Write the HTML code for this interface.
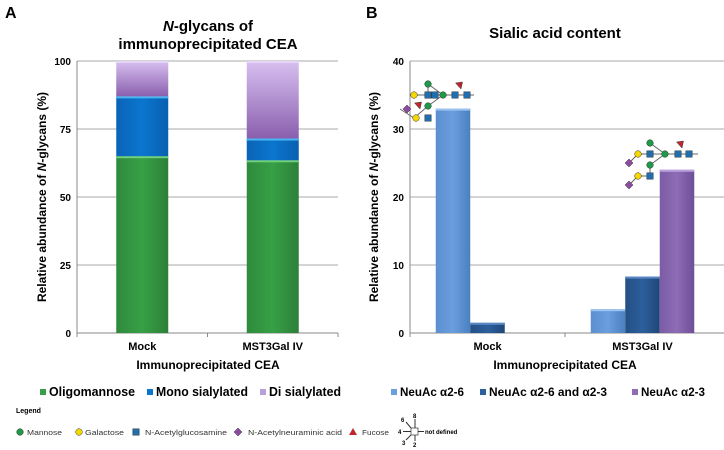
<!DOCTYPE html>
<html><head><meta charset="utf-8"><style>
html,body{margin:0;padding:0;background:#fff;}
svg{display:block;font-family:"Liberation Sans",Arial,sans-serif;}
</style></head><body>
<svg id="chart" width="724" height="450" viewBox="0 0 724 450" xmlns="http://www.w3.org/2000/svg">
<defs>
<linearGradient id="gGreen" x1="0" x2="1"><stop offset="0" stop-color="#2f8a3c"/><stop offset="0.5" stop-color="#37a046"/><stop offset="1" stop-color="#2c8038"/></linearGradient>
<linearGradient id="gBlue" x1="0" x2="1"><stop offset="0" stop-color="#0a64b8"/><stop offset="0.5" stop-color="#0b76cf"/><stop offset="1" stop-color="#0960b0"/></linearGradient>
<linearGradient id="gPurp" x1="0" x2="0" y1="0" y2="1"><stop offset="0" stop-color="#d8c0f0"/><stop offset="1" stop-color="#8a5fae"/></linearGradient>
<linearGradient id="bLight" x1="0" x2="1"><stop offset="0" stop-color="#5b8fd0"/><stop offset="0.5" stop-color="#6a9ede"/><stop offset="1" stop-color="#4a7fc0"/></linearGradient>
<linearGradient id="bDark" x1="0" x2="1"><stop offset="0" stop-color="#234f85"/><stop offset="0.5" stop-color="#2d5f9c"/><stop offset="1" stop-color="#1f4678"/></linearGradient>
<linearGradient id="bPurp" x1="0" x2="1"><stop offset="0" stop-color="#7c5ca6"/><stop offset="0.5" stop-color="#8e6cb6"/><stop offset="1" stop-color="#6e4f96"/></linearGradient>
</defs>
<g id="panelA"></g>
<g id="panelB"></g>
<g id="glycans"></g>
<g id="legends"></g>
</svg>
<script>
const NS="http://www.w3.org/2000/svg";
// Panel A data
const catsA=["Mock","MST3Gal IV"];
const seriesA=["Oligomannose","Mono sialylated","Di sialylated"];
const oligoA=[65,63.5];
const monoA=[22,8];
const diA=[13,28.5];
const ticksA=[0,25,50,75,100];
// Panel B data
const catsB=["Mock","MST3Gal IV"];
const seriesB=["NeuAc \u03b12-6","NeuAc \u03b12-6 and  \u03b12-3","NeuAc \u03b12-3"];
const a26B=[33,3.5];
const bothB=[1.5,8.3];
const a23B=[0,24];
const ticksB=[0,10,20,30,40];

function mk(tag,attrs,parent,text){const e=document.createElementNS(NS,tag);for(const k in attrs)e.setAttribute(k,attrs[k]);if(text!==undefined)e.textContent=text;parent.appendChild(e);return e;}

const y0=333,yTop=61;
// ---- Panel A
const A=document.getElementById('panelA');
const axL=77,axR=338;
const yA=v=>y0-(v/100)*(y0-yTop);
const xA=i=>axL+(axR-axL)/catsA.length*(i+0.5);
let t=mk('text',{x:5,y:18,'font-size':16,'font-weight':'bold'},A,'A');


t=mk('text',{x:208,y:31,'font-size':15,'font-weight':'bold','text-anchor':'middle'},A);


mk('tspan',{'font-style':'italic'},t,'N');mk('tspan',{},t,'-glycans of');
mk('tspan',{x:208,dy:18},t,'immunoprecipitated CEA');
ticksA.forEach(v=>{
 const g=mk('line',{x1:axL,x2:axR,y1:yA(v),y2:yA(v),stroke:v===0?'#888':'#aaa','stroke-width':1},A);
 
 
 const l=mk('text',{x:axL-6,y:yA(v)+4,'font-size':10,'font-weight':'bold','text-anchor':'end'},A,v);
 
 
});
mk('line',{x1:axL,x2:axL,y1:yTop,y2:y0,stroke:'#888'},A);
[axL,(axL+axR)/2,axR].forEach(x=>mk('line',{x1:x,x2:x,y1:y0,y2:y0+4,stroke:'#888'},A));
const bwA=52;
catsA.forEach((c,i)=>{
 let base=0;
 [[oligoA,'url(#gGreen)','#6fd07a','bar-oligomannose'],[monoA,'url(#gBlue)','#49b6f0','bar-mono-sialylated'],[diA,'url(#gPurp)','#e4d4f6','bar-di-sialylated']].forEach(([arr,fill,top,name])=>{
  const v=arr[i];const yt=yA(base+v),yb=yA(base);
  const r=mk('rect',{x:xA(i)-bwA/2,y:yt,width:bwA,height:yb-yt,fill:fill},A);
  
  
  mk('rect',{x:xA(i)-bwA/2,y:yt,width:bwA,height:2,fill:top},A);
  base+=v;
 });
 const l=mk('text',{x:xA(i),y:350,'font-size':11,'font-weight':'bold','text-anchor':'middle'},A,c);
 
 
});
t=mk('text',{x:208,y:369,'font-size':12,'font-weight':'bold','text-anchor':'middle'},A,'Immunoprecipitated CEA');


t=mk('text',{x:0,y:0,'font-size':12,'font-weight':'bold','text-anchor':'middle',transform:'translate(46,197) rotate(-90)'},A);


mk('tspan',{},t,'Relative abundance of ');mk('tspan',{'font-style':'italic'},t,'N');mk('tspan',{},t,'-glycans (%)');

// ---- Panel B
const B=document.getElementById('panelB');
const bxL=410,bxR=720;
const yB=v=>y0-(v/40)*(y0-yTop);
const xB=i=>bxL+(bxR-bxL)/catsB.length*(i+0.5);
t=mk('text',{x:366,y:18,'font-size':16,'font-weight':'bold'},B,'B');


t=mk('text',{x:555,y:38,'font-size':15,'font-weight':'bold','text-anchor':'middle'},B,'Sialic acid content');


ticksB.forEach(v=>{
 const g=mk('line',{x1:bxL,x2:724,y1:yB(v),y2:yB(v),stroke:v===0?'#888':'#aaa'},B);
 
 
 const l=mk('text',{x:bxL-6,y:yB(v)+4,'font-size':10,'font-weight':'bold','text-anchor':'end'},B,v);
 
 
});
mk('line',{x1:bxL,x2:bxL,y1:yTop,y2:y0,stroke:'#888'},B);
[bxL,(bxL+bxR)/2].forEach(x=>mk('line',{x1:x,x2:x,y1:y0,y2:y0+4,stroke:'#888'},B));
const bwB=34.5;
catsB.forEach((c,i)=>{
 [[a26B,'url(#bLight)','#9cc4f0','bar-neuac-a2-6'],[bothB,'url(#bDark)','#5a88c4','bar-neuac-both'],[a23B,'url(#bPurp)','#b9a0dc','bar-neuac-a2-3']].forEach(([arr,fill,top,name],k)=>{
  const v=arr[i];if(v<=0)return;
  const x=xB(i)-1.5*bwB+k*bwB;
  const r=mk('rect',{x:x,y:yB(v),width:bwB,height:y0-yB(v),fill:fill},B);
  
  
  mk('rect',{x:x,y:yB(v),width:bwB,height:2,fill:top},B);
 });
 const l=mk('text',{x:xB(i),y:350,'font-size':11,'font-weight':'bold','text-anchor':'middle'},B,c);
 
 
});
t=mk('text',{x:565,y:369,'font-size':12,'font-weight':'bold','text-anchor':'middle'},B,'Immunoprecipitated CEA');


t=mk('text',{x:0,y:0,'font-size':12,'font-weight':'bold','text-anchor':'middle',transform:'translate(378,197) rotate(-90)'},B);


mk('tspan',{},t,'Relative abundance of ');mk('tspan',{'font-style':'italic'},t,'N');mk('tspan',{},t,'-glycans (%)');

// ---- Glycan symbols
const G=document.getElementById('glycans');
function circ(x,y,c,p){mk('circle',{cx:x,cy:y,r:3.3,fill:c,stroke:'#333','stroke-width':0.5},p);}
function sq(x,y,p){mk('rect',{x:x-3.2,y:y-3.2,width:6.4,height:6.4,fill:'#1f6fb0',stroke:'#333','stroke-width':0.5},p);}
function dia(x,y,p){mk('polygon',{points:`${x},${y-4} ${x+4},${y} ${x},${y+4} ${x-4},${y}`,fill:'#8e4a9e',stroke:'#333','stroke-width':0.5},p);}
function tri(x,y,p){mk('polygon',{points:`${x-3.5},${y-3} ${x+3.5},${y-4} ${x+2},${y+3}`,fill:'#c0272d',stroke:'#333','stroke-width':0.5},p);}
function glyA(){const g=mk('g',{},G);
 mk('polyline',{points:'414,95 474,95',stroke:'#666',fill:'none'},g);
 mk('polyline',{points:'428,84 443,95 428,106',stroke:'#666',fill:'none'},g);
 mk('line',{x1:428,y1:106,x2:414,y2:118,stroke:'#666'},g);mk('line',{x1:428,y1:84,x2:428,y2:95,stroke:'#666'},g);
 mk('line',{x1:414,y1:118,x2:400,y2:109,stroke:'#666'},g);
 circ(414,95,'#f5d800',g);sq(428,95,g);sq(435,95,g);circ(443,95,'#1e9a48',g);circ(428,84,'#1e9a48',g);circ(428,106,'#1e9a48',g);
 sq(455,95,g);sq(467,95,g);tri(459,86,g);tri(418,106,g);circ(416,118,'#f5d800',g);sq(428,118,g);dia(407,109,g);}
function glyB(){const g=mk('g',{},G);
 mk('line',{x1:638,y1:154,x2:698,y2:154,stroke:'#666'},g);
 mk('polyline',{points:'650,143 665,154 650,165',stroke:'#666',fill:'none'},g);
 mk('polyline',{points:'650,165 650,176 638,176 629,185',stroke:'#666',fill:'none'},g);
 mk('line',{x1:638,y1:154,x2:629,y2:163,stroke:'#666'},g);
 circ(638,154,'#f5d800',g);sq(650,154,g);circ(665,154,'#1e9a48',g);circ(650,143,'#1e9a48',g);circ(650,165,'#1e9a48',g);
 sq(678,154,g);sq(689,154,g);tri(680,145,g);dia(629,163,g);circ(638,176,'#f5d800',g);sq(650,176,g);dia(629,185,g);}
glyA();glyB();

// ---- Legends
const L=document.getElementById('legends');
function legItem(x,y,col,label,name,size,len){const g=mk('g',{},L);
 mk('rect',{x:x,y:y-7,width:6,height:6,fill:col},g);mk('text',{x:x+9,y:y,'font-size':size,'font-weight':'bold',textLength:len,lengthAdjust:'spacingAndGlyphs'},g,label);}
legItem(40,396,'#37a046','Oligomannose','legend-oligomannose',13,86);
legItem(147,396,'#0b76cf','Mono sialylated','legend-mono-sialylated',13,92);
legItem(260,396,'#b8a0d8','Di sialylated','legend-di-sialylated',13,72);
legItem(391,396,'#6a9ede','NeuAc \u03b12-6','legend-neuac-a2-6',12,64);
legItem(480,396,'#2d5f9c','NeuAc \u03b12-6 and  \u03b12-3','legend-neuac-both',12,118);
legItem(632,396,'#8e6cb6','NeuAc \u03b12-3','legend-neuac-a2-3',12,64);
t=mk('text',{x:16,y:413,'font-size':7,'font-weight':'bold'},L,'Legend');


const sl=mk('g',{'font-size':7,fill:'#333'},L);
function st(x,label,len){mk('text',{x:x,y:435,textLength:len,lengthAdjust:'spacingAndGlyphs'},sl,label);}
circ(20,432,'#1e9a48',sl);st(27,'Mannose',35);
circ(79,432,'#f5d800',sl);st(85,'Galactose',39);
sq(136,432,sl);st(145,'N-Acetylglucosamine',82);
dia(238,432,sl);st(248,'N-Acetylneuraminic acid',94);
mk('polygon',{points:'353,428 357,435 349,435',fill:'#c0272d'},sl);st(362,'Fucose',27);
mk('rect',{x:411,y:428,width:7,height:7,fill:'#fff',stroke:'#333','stroke-width':0.7},sl);
mk('line',{x1:403,y1:431.5,x2:411,y2:431.5,stroke:'#333'},sl);mk('line',{x1:415,y1:419,x2:415,y2:428,stroke:'#333'},sl);
mk('line',{x1:406,y1:422,x2:411,y2:428,stroke:'#333'},sl);mk('line',{x1:411,y1:435,x2:406,y2:440,stroke:'#333'},sl);
mk('line',{x1:415,y1:435,x2:415,y2:441,stroke:'#333'},sl);mk('line',{x1:418,y1:431.5,x2:424,y2:431.5,stroke:'#333'},sl);
mk('text',{x:401,y:422,'font-size':6,'font-weight':'bold',fill:'#000'},sl,'6');mk('text',{x:413,y:418,'font-size':6,'font-weight':'bold',fill:'#000'},sl,'8');
mk('text',{x:398,y:434,'font-size':6,'font-weight':'bold',fill:'#000'},sl,'4');mk('text',{x:402,y:445,'font-size':6,'font-weight':'bold',fill:'#000'},sl,'3');
mk('text',{x:413,y:447,'font-size':6,'font-weight':'bold',fill:'#000'},sl,'2');mk('text',{x:425,y:434,'font-size':6,'font-weight':'bold',fill:'#000'},sl,'not defined');
</script>
</body></html>
